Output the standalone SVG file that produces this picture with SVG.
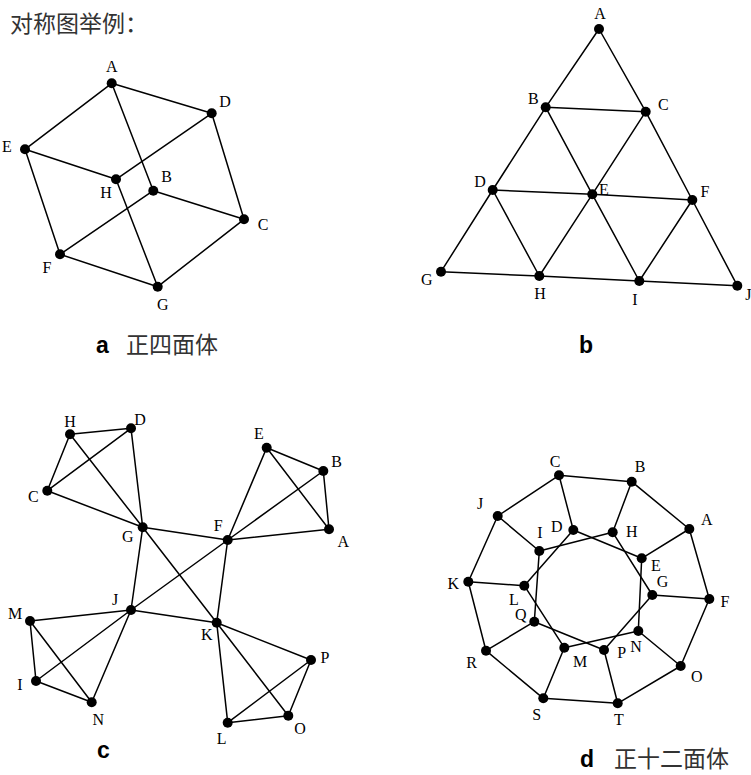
<svg xmlns="http://www.w3.org/2000/svg" width="751" height="775" viewBox="0 0 751 775">
<style>
.e{stroke:#000;stroke-width:1.5;fill:none;stroke-linecap:round}
.n circle{fill:#000}
.n text{font-family:"Liberation Serif","Times New Roman",serif;font-size:16px;text-anchor:middle;fill:#000}
.zh{font-family:"Noto Sans CJK SC","Noto Sans",sans-serif;font-size:23px;fill:#333}
.cap{font-family:"Liberation Sans",Arial,sans-serif;font-weight:bold;font-size:23px;fill:#000}
</style>
<rect width="751" height="775" fill="#fff"/>
<text class="zh" x="10" y="32">对称图举例：</text>

<!-- Panel a -->
<g id="a-edges" class="e">
<line x1="111.7" y1="83.3" x2="211.7" y2="113.3"/>
<line x1="111.7" y1="83.3" x2="25" y2="149.3"/>
<line x1="111.7" y1="83.3" x2="153.3" y2="190.7"/>
<line x1="211.7" y1="113.3" x2="116" y2="179.3"/>
<line x1="211.7" y1="113.3" x2="244" y2="219.3"/>
<line x1="25" y1="149.3" x2="116" y2="179.3"/>
<line x1="25" y1="149.3" x2="60" y2="254.3"/>
<line x1="116" y1="179.3" x2="157.7" y2="286.7"/>
<line x1="153.3" y1="190.7" x2="244" y2="219.3"/>
<line x1="153.3" y1="190.7" x2="60" y2="254.3"/>
<line x1="60" y1="254.3" x2="157.7" y2="286.7"/>
<line x1="244" y1="219.3" x2="157.7" y2="286.7"/>
</g>
<g id="a-A" class="n"><circle cx="111.7" cy="83.3" r="5"/><text x="111.7" y="72">A</text></g>
<g id="a-D" class="n"><circle cx="211.7" cy="113.3" r="5"/><text x="225" y="107">D</text></g>
<g id="a-E" class="n"><circle cx="25" cy="149.3" r="5"/><text x="7" y="152">E</text></g>
<g id="a-H" class="n"><circle cx="116" cy="179.3" r="5"/><text x="106" y="198">H</text></g>
<g id="a-B" class="n"><circle cx="153.3" cy="190.7" r="5"/><text x="166.7" y="182">B</text></g>
<g id="a-C" class="n"><circle cx="244" cy="219.3" r="5"/><text x="263" y="230">C</text></g>
<g id="a-F" class="n"><circle cx="60" cy="254.3" r="5"/><text x="47" y="272.7">F</text></g>
<g id="a-G" class="n"><circle cx="157.7" cy="286.7" r="5"/><text x="162.7" y="310">G</text></g>
<text class="cap" x="96" y="353">a</text>
<text class="zh" x="126" y="353">正四面体</text>

<!-- Panel b -->
<g id="b-edges" class="e">
<line x1="599" y1="29" x2="545.7" y2="107.3"/>
<line x1="599" y1="29" x2="645.7" y2="111.7"/>
<line x1="545.7" y1="107.3" x2="645.7" y2="111.7"/>
<line x1="545.7" y1="107.3" x2="492.7" y2="190"/>
<line x1="545.7" y1="107.3" x2="592.3" y2="194.3"/>
<line x1="645.7" y1="111.7" x2="592.3" y2="194.3"/>
<line x1="645.7" y1="111.7" x2="692.3" y2="200"/>
<line x1="492.7" y1="190" x2="592.3" y2="194.3"/>
<line x1="592.3" y1="194.3" x2="692.3" y2="200"/>
<line x1="492.7" y1="190" x2="441" y2="271.7"/>
<line x1="492.7" y1="190" x2="539.3" y2="276"/>
<line x1="592.3" y1="194.3" x2="539.3" y2="276"/>
<line x1="592.3" y1="194.3" x2="639.3" y2="281"/>
<line x1="692.3" y1="200" x2="639.3" y2="281"/>
<line x1="692.3" y1="200" x2="737.3" y2="285.7"/>
<line x1="441" y1="271.7" x2="539.3" y2="276"/>
<line x1="539.3" y1="276" x2="639.3" y2="281"/>
<line x1="639.3" y1="281" x2="737.3" y2="285.7"/>
</g>
<g id="b-A" class="n"><circle cx="599" cy="29" r="5"/><text x="600" y="18.6">A</text></g>
<g id="b-B" class="n"><circle cx="545.7" cy="107.3" r="5"/><text x="533.3" y="103.6">B</text></g>
<g id="b-C" class="n"><circle cx="645.7" cy="111.7" r="5"/><text x="663.3" y="110">C</text></g>
<g id="b-D" class="n"><circle cx="492.7" cy="190" r="5"/><text x="480" y="187">D</text></g>
<g id="b-E" class="n"><circle cx="592.3" cy="194.3" r="5"/><text x="604" y="195.3">E</text></g>
<g id="b-F" class="n"><circle cx="692.3" cy="200" r="5"/><text x="705" y="197">F</text></g>
<g id="b-G" class="n"><circle cx="441" cy="271.7" r="5"/><text x="426.7" y="285.3">G</text></g>
<g id="b-H" class="n"><circle cx="539.3" cy="276" r="5"/><text x="540" y="298.6">H</text></g>
<g id="b-I" class="n"><circle cx="639.3" cy="281" r="5"/><text x="635" y="305.3">I</text></g>
<g id="b-J" class="n"><circle cx="737.3" cy="285.7" r="5"/><text x="748.3" y="300.3">J</text></g>
<text class="cap" x="579" y="353">b</text>

<!-- Panel c -->
<g id="c-edges" class="e">
<line x1="70" y1="434.3" x2="131" y2="428.3"/>
<line x1="70" y1="434.3" x2="47.3" y2="490.7"/>
<line x1="70" y1="434.3" x2="142.7" y2="527.3"/>
<line x1="47.3" y1="490.7" x2="131" y2="428.3"/>
<line x1="131" y1="428.3" x2="142.7" y2="527.3"/>
<line x1="47.3" y1="490.7" x2="142.7" y2="527.3"/>
<line x1="266.7" y1="447.7" x2="323.3" y2="471"/>
<line x1="266.7" y1="447.7" x2="329" y2="529.3"/>
<line x1="266.7" y1="447.7" x2="227.7" y2="540"/>
<line x1="323.3" y1="471" x2="227.7" y2="540"/>
<line x1="323.3" y1="471" x2="329" y2="529.3"/>
<line x1="329" y1="529.3" x2="227.7" y2="540"/>
<line x1="142.7" y1="527.3" x2="227.7" y2="540"/>
<line x1="142.7" y1="527.3" x2="131" y2="610"/>
<line x1="142.7" y1="527.3" x2="216.7" y2="622.7"/>
<line x1="227.7" y1="540" x2="131" y2="610"/>
<line x1="227.7" y1="540" x2="216.7" y2="622.7"/>
<line x1="131" y1="610" x2="216.7" y2="622.7"/>
<line x1="131" y1="610" x2="30" y2="621"/>
<line x1="131" y1="610" x2="36" y2="681"/>
<line x1="131" y1="610" x2="91.7" y2="702.3"/>
<line x1="30" y1="621" x2="36" y2="681"/>
<line x1="30" y1="621" x2="91.7" y2="702.3"/>
<line x1="36" y1="681" x2="91.7" y2="702.3"/>
<line x1="216.7" y1="622.7" x2="311" y2="660"/>
<line x1="216.7" y1="622.7" x2="227.7" y2="722.7"/>
<line x1="216.7" y1="622.7" x2="288.3" y2="715.7"/>
<line x1="311" y1="660" x2="227.7" y2="722.7"/>
<line x1="311" y1="660" x2="288.3" y2="715.7"/>
<line x1="227.7" y1="722.7" x2="288.3" y2="715.7"/>
</g>
<g id="c-H" class="n"><circle cx="70" cy="434.3" r="5"/><text x="70" y="427">H</text></g>
<g id="c-D" class="n"><circle cx="131" cy="428.3" r="5"/><text x="140" y="425">D</text></g>
<g id="c-C" class="n"><circle cx="47.3" cy="490.7" r="5"/><text x="33.3" y="502">C</text></g>
<g id="c-G" class="n"><circle cx="142.7" cy="527.3" r="5"/><text x="127.7" y="542">G</text></g>
<g id="c-E" class="n"><circle cx="266.7" cy="447.7" r="5"/><text x="259" y="438.6">E</text></g>
<g id="c-B" class="n"><circle cx="323.3" cy="471" r="5"/><text x="336.7" y="467">B</text></g>
<g id="c-A" class="n"><circle cx="329" cy="529.3" r="5"/><text x="343.3" y="547">A</text></g>
<g id="c-F" class="n"><circle cx="227.7" cy="540" r="5"/><text x="218.3" y="531.3">F</text></g>
<g id="c-J" class="n"><circle cx="131" cy="610" r="5"/><text x="115" y="604.6">J</text></g>
<g id="c-K" class="n"><circle cx="216.7" cy="622.7" r="5"/><text x="206.7" y="640.3">K</text></g>
<g id="c-M" class="n"><circle cx="30" cy="621" r="5"/><text x="15" y="618.6">M</text></g>
<g id="c-I" class="n"><circle cx="36" cy="681" r="5"/><text x="20" y="690.3">I</text></g>
<g id="c-N" class="n"><circle cx="91.7" cy="702.3" r="5"/><text x="98.3" y="725.3">N</text></g>
<g id="c-P" class="n"><circle cx="311" cy="660" r="5"/><text x="325" y="662.6">P</text></g>
<g id="c-L" class="n"><circle cx="227.7" cy="722.7" r="5"/><text x="221.7" y="743.6">L</text></g>
<g id="c-O" class="n"><circle cx="288.3" cy="715.7" r="5"/><text x="300" y="733.6">O</text></g>
<text class="cap" x="97" y="758">c</text>

<!-- Panel d -->
<g id="d-edges" class="e">
<line x1="559" y1="475.3" x2="631.7" y2="481.7"/>
<line x1="631.7" y1="481.7" x2="689.3" y2="529"/>
<line x1="689.3" y1="529" x2="709.3" y2="599"/>
<line x1="709.3" y1="599" x2="680.7" y2="666"/>
<line x1="680.7" y1="666" x2="617.7" y2="703.3"/>
<line x1="617.7" y1="703.3" x2="543.3" y2="698.3"/>
<line x1="543.3" y1="698.3" x2="486" y2="650.7"/>
<line x1="486" y1="650.7" x2="468.3" y2="581.7"/>
<line x1="468.3" y1="581.7" x2="497.7" y2="516"/>
<line x1="497.7" y1="516" x2="559" y2="475.3"/>
<line x1="559" y1="475.3" x2="573.3" y2="530"/>
<line x1="631.7" y1="481.7" x2="612.7" y2="532.3"/>
<line x1="689.3" y1="529" x2="641.7" y2="558.3"/>
<line x1="709.3" y1="599" x2="652.3" y2="595"/>
<line x1="680.7" y1="666" x2="638.3" y2="631"/>
<line x1="617.7" y1="703.3" x2="604" y2="650"/>
<line x1="543.3" y1="698.3" x2="564.3" y2="647.7"/>
<line x1="486" y1="650.7" x2="534.3" y2="621.7"/>
<line x1="468.3" y1="581.7" x2="524.3" y2="585.7"/>
<line x1="497.7" y1="516" x2="539.3" y2="551"/>
<line x1="573.3" y1="530" x2="641.7" y2="558.3"/>
<line x1="612.7" y1="532.3" x2="652.3" y2="595"/>
<line x1="641.7" y1="558.3" x2="638.3" y2="631"/>
<line x1="652.3" y1="595" x2="604" y2="650"/>
<line x1="638.3" y1="631" x2="564.3" y2="647.7"/>
<line x1="604" y1="650" x2="534.3" y2="621.7"/>
<line x1="564.3" y1="647.7" x2="524.3" y2="585.7"/>
<line x1="534.3" y1="621.7" x2="539.3" y2="551"/>
<line x1="524.3" y1="585.7" x2="573.3" y2="530"/>
<line x1="539.3" y1="551" x2="612.7" y2="532.3"/>
</g>
<g id="d-C" class="n"><circle cx="559" cy="475.3" r="5"/><text x="555" y="467">C</text></g>
<g id="d-B" class="n"><circle cx="631.7" cy="481.7" r="5"/><text x="640" y="472">B</text></g>
<g id="d-A" class="n"><circle cx="689.3" cy="529" r="5"/><text x="706.7" y="525.3">A</text></g>
<g id="d-F" class="n"><circle cx="709.3" cy="599" r="5"/><text x="725" y="607">F</text></g>
<g id="d-O" class="n"><circle cx="680.7" cy="666" r="5"/><text x="696.7" y="682">O</text></g>
<g id="d-T" class="n"><circle cx="617.7" cy="703.3" r="5"/><text x="619" y="725.3">T</text></g>
<g id="d-S" class="n"><circle cx="543.3" cy="698.3" r="5"/><text x="536.7" y="720.3">S</text></g>
<g id="d-R" class="n"><circle cx="486" cy="650.7" r="5"/><text x="471.7" y="668">R</text></g>
<g id="d-K" class="n"><circle cx="468.3" cy="581.7" r="5"/><text x="453.3" y="588.6">K</text></g>
<g id="d-J" class="n"><circle cx="497.7" cy="516" r="5"/><text x="480" y="508.6">J</text></g>
<g id="d-D" class="n"><circle cx="573.3" cy="530" r="5"/><text x="556.7" y="532">D</text></g>
<g id="d-H" class="n"><circle cx="612.7" cy="532.3" r="5"/><text x="631.7" y="537">H</text></g>
<g id="d-E" class="n"><circle cx="641.7" cy="558.3" r="5"/><text x="656" y="571">E</text></g>
<g id="d-G" class="n"><circle cx="652.3" cy="595" r="5"/><text x="662.5" y="587">G</text></g>
<g id="d-N" class="n"><circle cx="638.3" cy="631" r="5"/><text x="636" y="652">N</text></g>
<g id="d-P" class="n"><circle cx="604" cy="650" r="5"/><text x="621.7" y="658">P</text></g>
<g id="d-M" class="n"><circle cx="564.3" cy="647.7" r="5"/><text x="580" y="667">M</text></g>
<g id="d-Q" class="n"><circle cx="534.3" cy="621.7" r="5"/><text x="520.7" y="620">Q</text></g>
<g id="d-L" class="n"><circle cx="524.3" cy="585.7" r="5"/><text x="514" y="605">L</text></g>
<g id="d-I" class="n"><circle cx="539.3" cy="551" r="5"/><text x="540" y="538">I</text></g>
<text class="cap" x="580" y="767">d</text>
<text class="zh" x="614" y="767">正十二面体</text>
</svg>
